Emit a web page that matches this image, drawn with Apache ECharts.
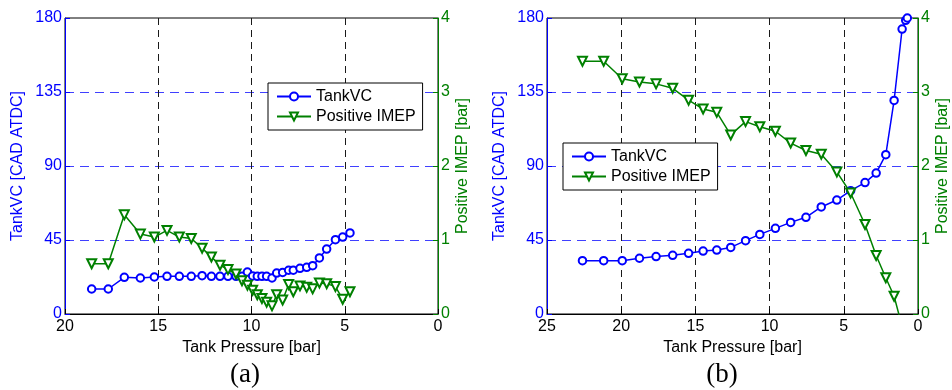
<!DOCTYPE html>
<html>
<head>
<meta charset="utf-8">
<script src="https://cdn.jsdelivr.net/npm/echarts@6/dist/echarts.min.js"></script>
<style>
html,body{margin:0;padding:0;background:#fff;}
#chart{width:952px;height:390px;}
</style>
</head>
<body>
<div id="chart"></div>
<script>
// Panel (a)
const leftPressure = [18.57,17.68,16.82,15.96,15.21,14.53,13.87,13.23,12.65,12.15,11.69,11.26,10.83,10.51,10.22,9.94,9.69,9.44,9.19,8.90,8.65,8.33,8.01,7.76,7.40,7.04,6.72,6.36,5.97,5.50,5.11,4.72];
const leftTankVC = [15.2,15.2,22.3,21.9,22.5,22.9,22.9,22.9,23.3,22.9,22.9,22.9,22.9,22.9,25.5,23.1,22.9,22.9,22.9,21.9,24.9,25.3,26.6,26.6,27.8,28.4,29.4,34.1,39.5,45.2,46.8,49.3];
const leftIMEP = [0.68,0.68,1.34,1.08,1.04,1.13,1.04,1.02,0.89,0.77,0.66,0.60,0.54,0.45,0.39,0.32,0.26,0.21,0.16,0.11,0.26,0.19,0.40,0.30,0.38,0.36,0.34,0.42,0.41,0.37,0.20,0.30];

// Panel (b)
const rightPressure = [22.61,21.18,19.93,18.77,17.65,16.53,15.46,14.48,13.56,12.62,11.62,10.66,9.61,8.58,7.55,6.52,5.47,4.54,3.57,2.82,2.17,1.61,1.07,0.83,0.72];
const rightTankVC = [32.4,32.4,32.4,33.9,34.9,35.7,36.9,38.3,38.9,40.5,44.6,48.4,52.1,55.7,58.8,65.1,69.3,75.0,79.9,85.7,96.9,129.9,173.3,178.6,180];
const rightIMEP = [3.415,3.415,3.18,3.135,3.11,3.05,2.89,2.77,2.725,2.42,2.60,2.53,2.47,2.31,2.21,2.16,1.92,1.635,1.21,0.79,0.49,0.24,-0.17];

const xMax = [20, 25];
const subLabels = ['(a)', '(b)'];
const xName = 'Tank Pressure [bar]';
const yLeftName = 'TankVC [CAD ATDC]';
const yRightName = 'Positive IMEP [bar]';
const seriesNames = ['TankVC', 'Positive IMEP'];

const FONT = 'Liberation Sans';
const BLUE = '#0000ff';
const GREEN = '#008000';

function pairs(xs, ys) { return ys.map((y, i) => [xs[i], y]); }

const grids = [
  {left: 65, top: 18, width: 373, height: 296},
  {left: 547, top: 18, width: 373, height: 296}
].map(g => Object.assign(g, {show: true, borderColor: '#000', borderWidth: 1, backgroundColor: '#fff'}));

const xAxes = xMax.map((mx, i) => ({
  type: 'value', gridIndex: i, min: 0, max: mx, interval: 5, inverse: true,
  name: xName, nameLocation: 'middle', nameGap: 23,
  nameTextStyle: {color: '#000', fontSize: 16, fontFamily: FONT},
  axisLine: {show: true, onZero: false, lineStyle: {color: '#000', width: 1}},
  axisTick: {show: true, inside: true, length: 5, lineStyle: {color: '#000'}},
  axisLabel: {color: '#000', fontSize: 16, fontFamily: FONT, margin: 5},
  splitLine: {show: true, showMinLine: false, showMaxLine: false, lineStyle: {color: '#1a1a1a', type: [7, 5], width: 1}}
}));

const yAxes = [];
[0, 1].forEach(i => {
  yAxes.push({
    type: 'value', gridIndex: i, position: 'left', min: 0, max: 180, interval: 45,
    name: yLeftName, nameLocation: 'middle', nameGap: 39, nameRotate: 90,
    nameTextStyle: {color: BLUE, fontSize: 16, fontFamily: FONT},
    axisLine: {show: true, onZero: false, lineStyle: {color: BLUE, width: 1}},
    axisTick: {show: true, inside: true, length: 5, lineStyle: {color: BLUE}},
    axisLabel: {color: BLUE, fontSize: 16, fontFamily: FONT, margin: 3},
    splitLine: {show: true, showMinLine: false, showMaxLine: false, lineStyle: {color: '#4040ff', type: [9, 6], width: 1}}
  });
  yAxes.push({
    type: 'value', gridIndex: i, position: 'right', min: 0, max: 4, interval: 1,
    name: yRightName, nameLocation: 'middle', nameGap: 17, nameRotate: 90,
    nameTextStyle: {color: GREEN, fontSize: 16, fontFamily: FONT},
    axisLine: {show: true, onZero: false, lineStyle: {color: GREEN, width: 1}},
    axisTick: {show: true, inside: true, length: 5, lineStyle: {color: GREEN}},
    axisLabel: {color: GREEN, fontSize: 16, fontFamily: FONT, margin: 3},
    splitLine: {show: false}
  });
});

function tankSeries(i, xs, ys) {
  return {
    name: seriesNames[0], type: 'line', xAxisIndex: i, yAxisIndex: 2 * i,
    data: pairs(xs, ys), symbol: 'emptyCircle', symbolSize: 7.5,
    lineStyle: {color: BLUE, width: 1.5}, itemStyle: {color: BLUE, borderWidth: 1.4},
    clip: true, animation: false
  };
}
function imepSeries(i, xs, ys) {
  return {
    name: seriesNames[1], type: 'line', xAxisIndex: i, yAxisIndex: 2 * i + 1,
    data: pairs(xs, ys), symbol: 'emptyTriangle', symbolRotate: 180, symbolSize: 9,
    lineStyle: {color: GREEN, width: 1.5}, itemStyle: {color: GREEN, borderWidth: 1.4},
    clip: true, animation: false
  };
}

const legendBase = {
  orient: 'vertical', borderColor: '#000', borderWidth: 1, backgroundColor: '#fff',
  padding: [5, 7, 5, 8], itemWidth: 34, itemHeight: 10, itemGap: 3,
  textStyle: {fontSize: 16, fontFamily: FONT, color: '#000', lineHeight: 17},
  data: seriesNames
};

const chart = echarts.init(document.getElementById('chart'), null, {renderer: 'canvas'});
chart.setOption({
  animation: false,
  backgroundColor: '#fff',
  title: [
    {text: subLabels[0], left: 240, top: 356, textAlign: 'center', textStyle: {fontFamily: 'Liberation Serif', fontSize: 27, fontWeight: 'normal', color: '#000'}},
    {text: subLabels[1], left: 717, top: 356, textAlign: 'center', textStyle: {fontFamily: 'Liberation Serif', fontSize: 27, fontWeight: 'normal', color: '#000'}}
  ],
  legend: [
    Object.assign({}, legendBase, {left: 268, top: 83}),
    Object.assign({}, legendBase, {left: 563, top: 143})
  ],
  grid: grids,
  xAxis: xAxes,
  yAxis: yAxes,
  series: [
    tankSeries(0, leftPressure, leftTankVC),
    imepSeries(0, leftPressure, leftIMEP),
    tankSeries(1, rightPressure, rightTankVC),
    imepSeries(1, rightPressure, rightIMEP)
  ]
});
</script>
</body>
</html>
